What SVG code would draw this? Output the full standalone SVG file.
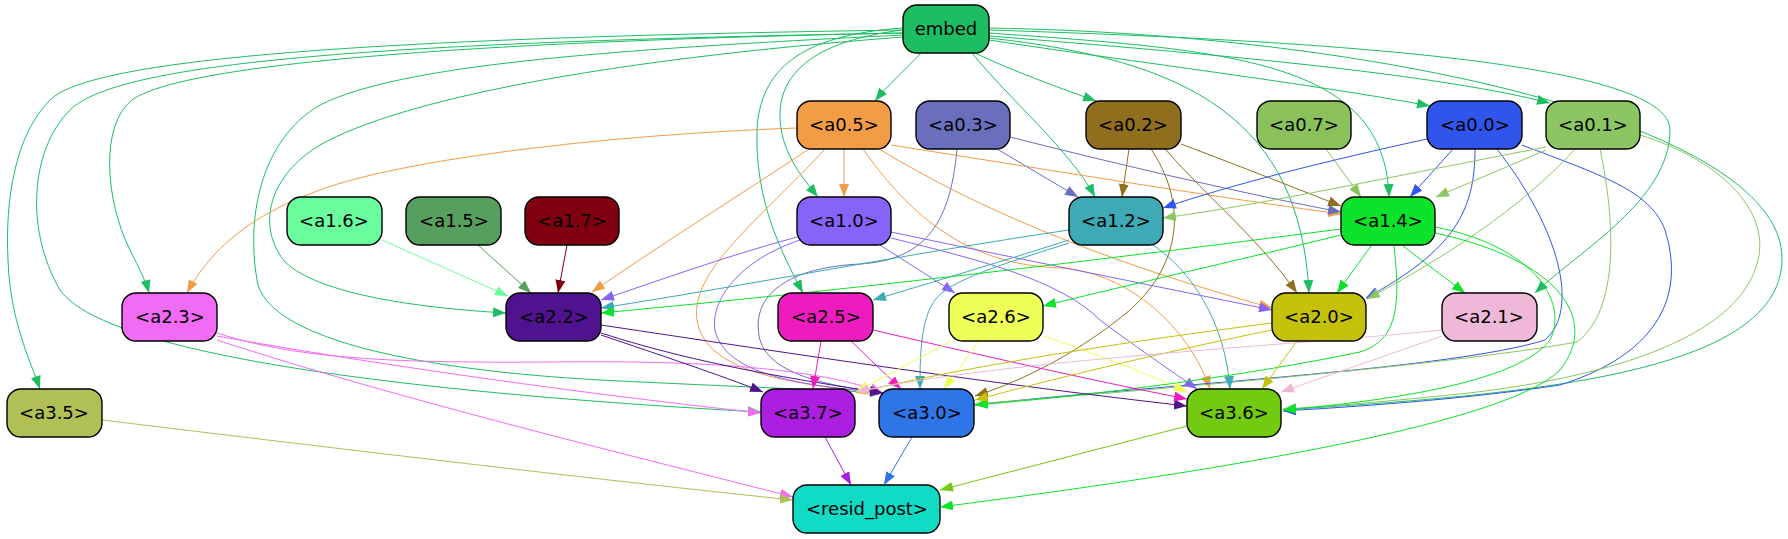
<svg xmlns="http://www.w3.org/2000/svg" width="1788" height="539" viewBox="0 0 1788 539">
<style>
.node rect{stroke:#000;stroke-width:1.4}
.node text{font-family:"DejaVu Sans","Liberation Sans",sans-serif;font-size:18px;text-anchor:middle;fill:#000}
#edges path{fill:none;stroke-width:1}
.c-embed{stroke:#1dbe63;marker-end:url(#m-embed)}
.c-a05{stroke:#f39c46;marker-end:url(#m-a05)}
.c-a03{stroke:#6a6fbd;marker-end:url(#m-a03)}
.c-a02{stroke:#8f6f1d;marker-end:url(#m-a02)}
.c-a07{stroke:#8bc15a;marker-end:url(#m-a07)}
.c-a00{stroke:#3055ec;marker-end:url(#m-a00)}
.c-a01{stroke:#8bc663;marker-end:url(#m-a01)}
.c-a10{stroke:#8863fa;marker-end:url(#m-a10)}
.c-a12{stroke:#3eaab5;marker-end:url(#m-a12)}
.c-a14{stroke:#0be22a;marker-end:url(#m-a14)}
.c-a16{stroke:#6afd9e;marker-end:url(#m-a16)}
.c-a15{stroke:#579f5f;marker-end:url(#m-a15)}
.c-a17{stroke:#800010;marker-end:url(#m-a17)}
.c-a23{stroke:#f26bf4;marker-end:url(#m-a23)}
.c-a22{stroke:#50138f;marker-end:url(#m-a22)}
.c-a25{stroke:#ec1cbf;marker-end:url(#m-a25)}
.c-a26{stroke:#eeff58;marker-end:url(#m-a26)}
.c-a20{stroke:#c5c10a;marker-end:url(#m-a20)}
.c-a21{stroke:#efb7d8;marker-end:url(#m-a21)}
.c-a35{stroke:#b0c054;marker-end:url(#m-a35)}
.c-a37{stroke:#ad1fe0;marker-end:url(#m-a37)}
.c-a30{stroke:#2e76e8;marker-end:url(#m-a30)}
.c-a36{stroke:#72cb10;marker-end:url(#m-a36)}
</style>
<defs>
<marker id="m-embed" viewBox="0 0 13 10" refX="13" refY="5" markerWidth="13" markerHeight="10" markerUnits="userSpaceOnUse" orient="auto"><path d="M0,0L13,5L0,10z" fill="#1dbe63"/></marker>
<marker id="m-a05" viewBox="0 0 13 10" refX="13" refY="5" markerWidth="13" markerHeight="10" markerUnits="userSpaceOnUse" orient="auto"><path d="M0,0L13,5L0,10z" fill="#f39c46"/></marker>
<marker id="m-a03" viewBox="0 0 13 10" refX="13" refY="5" markerWidth="13" markerHeight="10" markerUnits="userSpaceOnUse" orient="auto"><path d="M0,0L13,5L0,10z" fill="#6a6fbd"/></marker>
<marker id="m-a02" viewBox="0 0 13 10" refX="13" refY="5" markerWidth="13" markerHeight="10" markerUnits="userSpaceOnUse" orient="auto"><path d="M0,0L13,5L0,10z" fill="#8f6f1d"/></marker>
<marker id="m-a07" viewBox="0 0 13 10" refX="13" refY="5" markerWidth="13" markerHeight="10" markerUnits="userSpaceOnUse" orient="auto"><path d="M0,0L13,5L0,10z" fill="#8bc15a"/></marker>
<marker id="m-a00" viewBox="0 0 13 10" refX="13" refY="5" markerWidth="13" markerHeight="10" markerUnits="userSpaceOnUse" orient="auto"><path d="M0,0L13,5L0,10z" fill="#3055ec"/></marker>
<marker id="m-a01" viewBox="0 0 13 10" refX="13" refY="5" markerWidth="13" markerHeight="10" markerUnits="userSpaceOnUse" orient="auto"><path d="M0,0L13,5L0,10z" fill="#8bc663"/></marker>
<marker id="m-a10" viewBox="0 0 13 10" refX="13" refY="5" markerWidth="13" markerHeight="10" markerUnits="userSpaceOnUse" orient="auto"><path d="M0,0L13,5L0,10z" fill="#8863fa"/></marker>
<marker id="m-a12" viewBox="0 0 13 10" refX="13" refY="5" markerWidth="13" markerHeight="10" markerUnits="userSpaceOnUse" orient="auto"><path d="M0,0L13,5L0,10z" fill="#3eaab5"/></marker>
<marker id="m-a14" viewBox="0 0 13 10" refX="13" refY="5" markerWidth="13" markerHeight="10" markerUnits="userSpaceOnUse" orient="auto"><path d="M0,0L13,5L0,10z" fill="#0be22a"/></marker>
<marker id="m-a16" viewBox="0 0 13 10" refX="13" refY="5" markerWidth="13" markerHeight="10" markerUnits="userSpaceOnUse" orient="auto"><path d="M0,0L13,5L0,10z" fill="#6afd9e"/></marker>
<marker id="m-a15" viewBox="0 0 13 10" refX="13" refY="5" markerWidth="13" markerHeight="10" markerUnits="userSpaceOnUse" orient="auto"><path d="M0,0L13,5L0,10z" fill="#579f5f"/></marker>
<marker id="m-a17" viewBox="0 0 13 10" refX="13" refY="5" markerWidth="13" markerHeight="10" markerUnits="userSpaceOnUse" orient="auto"><path d="M0,0L13,5L0,10z" fill="#800010"/></marker>
<marker id="m-a23" viewBox="0 0 13 10" refX="13" refY="5" markerWidth="13" markerHeight="10" markerUnits="userSpaceOnUse" orient="auto"><path d="M0,0L13,5L0,10z" fill="#f26bf4"/></marker>
<marker id="m-a22" viewBox="0 0 13 10" refX="13" refY="5" markerWidth="13" markerHeight="10" markerUnits="userSpaceOnUse" orient="auto"><path d="M0,0L13,5L0,10z" fill="#50138f"/></marker>
<marker id="m-a25" viewBox="0 0 13 10" refX="13" refY="5" markerWidth="13" markerHeight="10" markerUnits="userSpaceOnUse" orient="auto"><path d="M0,0L13,5L0,10z" fill="#ec1cbf"/></marker>
<marker id="m-a26" viewBox="0 0 13 10" refX="13" refY="5" markerWidth="13" markerHeight="10" markerUnits="userSpaceOnUse" orient="auto"><path d="M0,0L13,5L0,10z" fill="#eeff58"/></marker>
<marker id="m-a20" viewBox="0 0 13 10" refX="13" refY="5" markerWidth="13" markerHeight="10" markerUnits="userSpaceOnUse" orient="auto"><path d="M0,0L13,5L0,10z" fill="#c5c10a"/></marker>
<marker id="m-a21" viewBox="0 0 13 10" refX="13" refY="5" markerWidth="13" markerHeight="10" markerUnits="userSpaceOnUse" orient="auto"><path d="M0,0L13,5L0,10z" fill="#efb7d8"/></marker>
<marker id="m-a35" viewBox="0 0 13 10" refX="13" refY="5" markerWidth="13" markerHeight="10" markerUnits="userSpaceOnUse" orient="auto"><path d="M0,0L13,5L0,10z" fill="#b0c054"/></marker>
<marker id="m-a37" viewBox="0 0 13 10" refX="13" refY="5" markerWidth="13" markerHeight="10" markerUnits="userSpaceOnUse" orient="auto"><path d="M0,0L13,5L0,10z" fill="#ad1fe0"/></marker>
<marker id="m-a30" viewBox="0 0 13 10" refX="13" refY="5" markerWidth="13" markerHeight="10" markerUnits="userSpaceOnUse" orient="auto"><path d="M0,0L13,5L0,10z" fill="#2e76e8"/></marker>
<marker id="m-a36" viewBox="0 0 13 10" refX="13" refY="5" markerWidth="13" markerHeight="10" markerUnits="userSpaceOnUse" orient="auto"><path d="M0,0L13,5L0,10z" fill="#72cb10"/></marker>
</defs>
<rect width="1788" height="539" fill="#fff"/>
<g id="edges">
<path class="c-embed" d="M921,53 C905,70 888,85 875,101"/>
<path class="c-embed" d="M975,53 C1010,70 1060,88 1096,101"/>
<path class="c-embed" d="M989,40 C1120,60 1320,85 1430,106"/>
<path class="c-embed" d="M989,36 C1160,50 1420,70 1550,103"/>
<path class="c-embed" d="M972,53 C1010,100 1070,150 1095,197"/>
<path class="c-embed" d="M989,33 C1230,50 1385,60 1389,197"/>
<path class="c-embed" d="M989,38 C1190,60 1300,120 1309,293"/>
<path class="c-embed" d="M989,30 C1300,40 1670,60 1670,130 C1670,200 1580,250 1535,293"/>
<path class="c-embed" d="M989,28 C1400,35 1785,130 1782,260 C1780,380 1500,395 1283,410"/>
<path class="c-embed" d="M903,30 C820,40 780,70 780,115 C780,150 800,175 818,197"/>
<path class="c-embed" d="M903,28 C800,35 760,70 757,130 C755,200 780,250 803,293"/>
<path class="c-embed" d="M903,37 C600,60 400,100 320,145 C270,175 255,225 285,262 C320,295 420,308 506,313"/>
<path class="c-embed" d="M903,35 C600,50 400,65 320,105 C260,140 245,220 258,285 C275,340 420,370 600,380 C720,386 830,390 883,393"/>
<path class="c-embed" d="M903,30 C350,38 90,60 50,100 C15,135 5,200 8,260 C10,320 30,360 40,389"/>
<path class="c-embed" d="M903,33 C400,42 120,60 70,110 C30,150 25,230 60,290 C110,360 450,395 761,412"/>
<path class="c-embed" d="M903,33 C450,42 180,65 132,100 C100,125 105,200 130,250 C140,270 146,282 149,293"/>
<path class="c-a05" d="M844,149 L844,197"/>
<path class="c-a05" d="M797,128 C600,135 400,160 320,190 C250,215 210,250 187,293"/>
<path class="c-a05" d="M809,149 C740,195 660,245 592,292"/>
<path class="c-a05" d="M825,149 C760,220 690,270 697,320 C705,375 800,385 883,393"/>
<path class="c-a05" d="M891,145 C1050,170 1200,195 1341,214"/>
<path class="c-a05" d="M879,149 C980,210 1100,260 1272,308"/>
<path class="c-a05" d="M863,149 C920,230 980,265 1060,268 C1130,272 1190,330 1210,389"/>
<path class="c-a03" d="M997,149 L1078,197"/>
<path class="c-a03" d="M1010,137 C1120,165 1250,195 1341,212"/>
<path class="c-a03" d="M957,149 C950,230 920,260 860,264 C780,268 750,300 760,340 C770,375 830,386 883,393"/>
<path class="c-a02" d="M1129,149 L1122,197"/>
<path class="c-a02" d="M1181,144 C1250,170 1300,190 1341,206"/>
<path class="c-a02" d="M1165,149 C1210,200 1260,240 1297,293"/>
<path class="c-a02" d="M1151,149 C1185,200 1185,260 1130,310 C1070,360 1010,385 975,396"/>
<path class="c-a07" d="M1326,149 L1361,197"/>
<path class="c-a00" d="M1427,139 C1330,160 1230,185 1163,208"/>
<path class="c-a00" d="M1453,149 L1410,197"/>
<path class="c-a00" d="M1475,149 C1475,210 1455,250 1366,298"/>
<path class="c-a00" d="M1497,149 C1560,230 1580,310 1545,340 C1450,370 1150,385 975,405"/>
<path class="c-a00" d="M1522,145 C1600,175 1650,190 1665,230 C1690,310 1640,360 1560,385 C1460,400 1350,407 1283,411"/>
<path class="c-a01" d="M1546,147 C1400,175 1260,205 1163,218"/>
<path class="c-a01" d="M1546,150 L1436,197"/>
<path class="c-a01" d="M1575,149 C1520,210 1440,260 1367,299"/>
<path class="c-a01" d="M1600,149 C1615,220 1620,310 1577,342 C1450,365 1150,390 975,404"/>
<path class="c-a01" d="M1640,135 C1720,160 1770,210 1758,260 C1740,340 1600,380 1450,395 C1380,402 1320,407 1283,409"/>
<path class="c-a10" d="M797,237 C730,255 660,280 601,300"/>
<path class="c-a10" d="M800,240 C740,260 710,300 715,330 C725,375 800,385 883,393"/>
<path class="c-a10" d="M891,232 C1000,255 1150,285 1272,310"/>
<path class="c-a10" d="M891,238 C980,260 1060,280 1100,320 C1140,350 1170,370 1197,389"/>
<path class="c-a10" d="M880,245 L955,293"/>
<path class="c-a12" d="M1069,230 C900,255 750,285 601,308"/>
<path class="c-a12" d="M1069,240 C1000,262 930,283 873,300"/>
<path class="c-a12" d="M1069,243 C1000,265 950,280 935,300 C920,320 920,360 920,389"/>
<path class="c-a12" d="M1153,245 C1190,270 1225,320 1230,389"/>
<path class="c-a14" d="M1341,229 C1100,260 850,290 601,313"/>
<path class="c-a14" d="M1341,235 C1240,260 1140,282 1043,306"/>
<path class="c-a14" d="M1371,246 L1337,293"/>
<path class="c-a14" d="M1403,246 L1465,293"/>
<path class="c-a14" d="M1394,246 C1400,300 1400,340 1360,352 C1250,375 1100,395 975,405"/>
<path class="c-a14" d="M1435,227 C1530,245 1570,300 1550,340 C1520,380 1400,400 1283,410"/>
<path class="c-a14" d="M1435,233 C1560,260 1600,320 1560,370 C1500,430 1150,480 940,507"/>
<path class="c-a16" d="M382,240 L508,296"/>
<path class="c-a15" d="M478,245 L531,293"/>
<path class="c-a17" d="M567,245 L558,293"/>
<path class="c-a23" d="M217,336 C350,360 550,390 761,413"/>
<path class="c-a23" d="M217,333 C300,360 400,363 550,362 C700,360 820,368 883,393"/>
<path class="c-a23" d="M217,340 C400,400 650,460 793,497"/>
<path class="c-a22" d="M601,335 C660,355 720,375 763,392"/>
<path class="c-a22" d="M601,333 C700,365 800,380 883,393"/>
<path class="c-a22" d="M601,325 C800,355 1000,385 1187,406"/>
<path class="c-a25" d="M821,341 L813,389"/>
<path class="c-a25" d="M851,341 L901,389"/>
<path class="c-a25" d="M873,330 C980,355 1080,378 1187,399"/>
<path class="c-a26" d="M951,341 L856,392"/>
<path class="c-a26" d="M979,341 L944,389"/>
<path class="c-a26" d="M1043,336 C1100,355 1150,375 1187,392"/>
<path class="c-a20" d="M1272,323 C1100,345 950,370 856,393"/>
<path class="c-a20" d="M1272,330 C1150,355 1050,380 975,400"/>
<path class="c-a20" d="M1297,341 L1262,389"/>
<path class="c-a21" d="M1442,330 C1300,345 1000,360 856,392"/>
<path class="c-a21" d="M1442,336 L1281,392"/>
<path class="c-a35" d="M102,420 C350,450 600,480 793,500"/>
<path class="c-a37" d="M825,437 L851,485"/>
<path class="c-a30" d="M912,437 L884,485"/>
<path class="c-a36" d="M1187,426 L940,490"/>
</g>
<g id="embed" class="node"><rect x="903" y="5" width="86" height="48" rx="14" fill="#1dbe63"/><text x="946" y="35">embed</text></g>
<g id="a0.5" class="node"><rect x="797" y="101" width="94" height="48" rx="14" fill="#f39c46"/><text x="844" y="131">&lt;a0.5&gt;</text></g>
<g id="a0.3" class="node"><rect x="916" y="101" width="94" height="48" rx="14" fill="#6a6fbd"/><text x="963" y="131">&lt;a0.3&gt;</text></g>
<g id="a0.2" class="node"><rect x="1086" y="101" width="95" height="48" rx="14" fill="#8f6f1d"/><text x="1133" y="131">&lt;a0.2&gt;</text></g>
<g id="a0.7" class="node"><rect x="1257" y="101" width="94" height="48" rx="14" fill="#8bc15a"/><text x="1304" y="131">&lt;a0.7&gt;</text></g>
<g id="a0.0" class="node"><rect x="1427" y="101" width="95" height="48" rx="14" fill="#3055ec"/><text x="1475" y="131">&lt;a0.0&gt;</text></g>
<g id="a0.1" class="node"><rect x="1546" y="101" width="94" height="48" rx="14" fill="#8bc663"/><text x="1593" y="131">&lt;a0.1&gt;</text></g>
<g id="a1.6" class="node"><rect x="287" y="197" width="95" height="48" rx="14" fill="#6afd9e"/><text x="334" y="227">&lt;a1.6&gt;</text></g>
<g id="a1.5" class="node"><rect x="406" y="197" width="95" height="48" rx="14" fill="#579f5f"/><text x="454" y="227">&lt;a1.5&gt;</text></g>
<g id="a1.7" class="node"><rect x="525" y="197" width="94" height="48" rx="14" fill="#800010"/><text x="572" y="227">&lt;a1.7&gt;</text></g>
<g id="a1.0" class="node"><rect x="797" y="197" width="94" height="48" rx="14" fill="#8863fa"/><text x="844" y="227">&lt;a1.0&gt;</text></g>
<g id="a1.2" class="node"><rect x="1069" y="197" width="94" height="48" rx="14" fill="#3eaab5"/><text x="1116" y="227">&lt;a1.2&gt;</text></g>
<g id="a1.4" class="node"><rect x="1341" y="197" width="94" height="48" rx="14" fill="#0be22a"/><text x="1388" y="227">&lt;a1.4&gt;</text></g>
<g id="a2.3" class="node"><rect x="122" y="293" width="95" height="48" rx="14" fill="#f26bf4"/><text x="170" y="323">&lt;a2.3&gt;</text></g>
<g id="a2.2" class="node"><rect x="506" y="293" width="95" height="48" rx="14" fill="#50138f"/><text x="554" y="323">&lt;a2.2&gt;</text></g>
<g id="a2.5" class="node"><rect x="778" y="293" width="95" height="48" rx="14" fill="#ec1cbf"/><text x="826" y="323">&lt;a2.5&gt;</text></g>
<g id="a2.6" class="node"><rect x="949" y="293" width="94" height="48" rx="14" fill="#eeff58"/><text x="996" y="323">&lt;a2.6&gt;</text></g>
<g id="a2.0" class="node"><rect x="1272" y="293" width="94" height="48" rx="14" fill="#c5c10a"/><text x="1319" y="323">&lt;a2.0&gt;</text></g>
<g id="a2.1" class="node"><rect x="1442" y="293" width="95" height="48" rx="14" fill="#efb7d8"/><text x="1489" y="323">&lt;a2.1&gt;</text></g>
<g id="a3.5" class="node"><rect x="7" y="389" width="95" height="48" rx="14" fill="#b0c054"/><text x="54" y="419">&lt;a3.5&gt;</text></g>
<g id="a3.7" class="node"><rect x="761" y="389" width="94" height="48" rx="14" fill="#ad1fe0"/><text x="808" y="419">&lt;a3.7&gt;</text></g>
<g id="a3.0" class="node"><rect x="879" y="389" width="95" height="48" rx="14" fill="#2e76e8"/><text x="927" y="419">&lt;a3.0&gt;</text></g>
<g id="a3.6" class="node"><rect x="1187" y="389" width="94" height="48" rx="14" fill="#72cb10"/><text x="1234" y="419">&lt;a3.6&gt;</text></g>
<g id="resid_post" class="node"><rect x="793" y="485" width="147" height="48" rx="14" fill="#12dbc5"/><text x="867" y="515">&lt;resid_post&gt;</text></g>
</svg>
